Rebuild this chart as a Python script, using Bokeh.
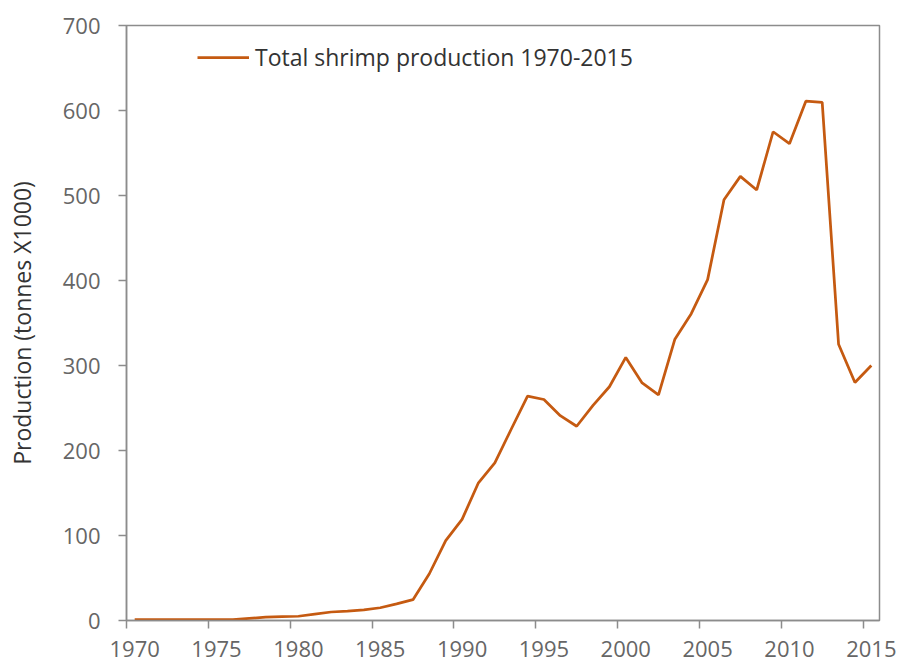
from bokeh.plotting import figure
from bokeh.models import FixedTicker, Range1d, Legend, LegendItem, ColumnDataSource
from bokeh.embed import file_html
from bokeh.resources import INLINE

years = list(range(1970, 2016))
production = [1, 1, 1, 1, 1, 1, 1, 2.5, 4, 4.5,
              5, 7.5, 10, 11, 12.5, 15, 19.5, 24.5, 55, 94,
              119, 162, 185.5, 225, 264, 260, 241, 228.5, 253, 275,
              309.5, 279.5, 265.5, 331, 361, 401, 495, 522.5, 506.5, 575,
              561, 611, 609.5, 325, 280, 300]
y_ticks = [0, 100, 200, 300, 400, 500, 600, 700]
x_label_years = [1970, 1975, 1980, 1985, 1990, 1995, 2000, 2005, 2010, 2015]
series_name = "Total shrimp production 1970-2015"
y_title = "Production (tonnes X1000)"

FONT = "Open Sans"
AXIS_GRAY = "#8c8c8c"
LABEL_GRAY = "#666666"
LINE_COLOR = "#C55A11"

p = figure(width=897, height=665, output_backend="svg", toolbar_location=None,
           x_range=Range1d(1969.5, 2015.5), y_range=Range1d(0, 700),
           min_border_left=126, min_border_top=25, min_border_right=18, min_border_bottom=45)
p.xgrid.visible = False
p.ygrid.visible = False
p.outline_line_color = AXIS_GRAY
p.outline_line_width = 1.5
p.background_fill_color = "white"
p.border_fill_color = "white"

src = ColumnDataSource(dict(year=years, prod=production))
r = p.line("year", "prod", source=src, line_color=LINE_COLOR, line_width=2.75)

# x axis: labels at category centres, tick marks at category boundaries
p.xaxis.ticker = FixedTicker(ticks=x_label_years, minor_ticks=[y - 0.5 for y in x_label_years])
p.xaxis.major_tick_out = 0
p.xaxis.major_tick_in = 0
p.xaxis.minor_tick_out = 8
p.xaxis.minor_tick_in = 0
p.xaxis.minor_tick_line_color = AXIS_GRAY
p.xaxis.minor_tick_line_width = 1.5

p.yaxis.ticker = FixedTicker(ticks=y_ticks, minor_ticks=[])
p.yaxis.major_tick_out = 8
p.yaxis.major_tick_in = 0
p.yaxis.major_tick_line_color = AXIS_GRAY
p.yaxis.major_tick_line_width = 1.5
p.yaxis.minor_tick_line_color = None
p.yaxis.major_label_standoff = 18
p.xaxis.major_label_standoff = 12

for ax in (p.xaxis, p.yaxis):
    ax.axis_line_color = AXIS_GRAY
    ax.axis_line_width = 1.5
    ax.major_label_text_font = FONT
    ax.major_label_text_font_size = "22px"
    ax.major_label_text_color = LABEL_GRAY

p.yaxis.axis_label = y_title
p.yaxis.axis_label_text_font = FONT
p.yaxis.axis_label_text_font_size = "23px"
p.yaxis.axis_label_text_font_style = "normal"
p.yaxis.axis_label_text_color = "#333333"
p.yaxis.axis_label_standoff = 22

legend = Legend(items=[LegendItem(label=series_name, renderers=[r])],
                location=(71, 547), border_line_color=None, background_fill_alpha=0,
                padding=0, margin=0, spacing=0,
                glyph_width=52, glyph_height=24, label_height=24, label_standoff=6,
                label_text_font=FONT, label_text_font_size="23px", label_text_color="#333333")
p.add_layout(legend)

open("out.html", "w").write(file_html(p, INLINE))
